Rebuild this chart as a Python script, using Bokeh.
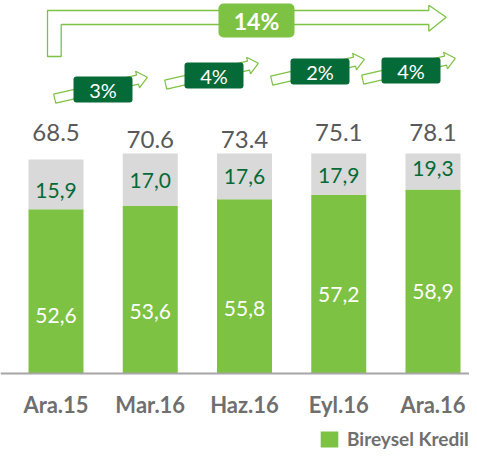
import math
from bokeh.plotting import figure
from bokeh.models import Range1d, Span, Legend, LegendItem, ColumnDataSource
from bokeh.core.properties import value
from bokeh.embed import file_html
from bokeh.resources import INLINE

# ---------------- data ----------------
categories = ["Ara.15", "Mar.16", "Haz.16", "Eyl.16", "Ara.16"]
bireysel = [52.6, 53.6, 55.8, 57.2, 58.9]
diger = [15.9, 17.0, 17.6, 17.9, 19.3]
totals = [68.5, 70.6, 73.4, 75.1, 78.1]
quarter_growth = ["3%", "4%", "2%", "4%"]
annual_growth = "14%"
legend_label = "Bireysel Kredil"
value_axis_max = 70.4  # the original value axis stops here; taller bars are cut

# ---------------- layout (pixels) ----------------
W, H = 469, 450
X0_PX, PX_PER_X = 55.5, 94.25     # centre of first category, category step
Y0_PX, PX_PER_Y = 373.0, 3.125    # baseline, px per unit
BAR_W = 55 / PX_PER_X

total_lift_px = [26.5, 14, 14.5, 21, 21]
grey_label_shift_px = [6.5, 1, 0, 1, -3]
green_label_lift_px = [58.5, 62, 65.5, 79, 82.5]
growth_box_cx_px = [102.5, 213.5, 319.5, 410.5]
growth_box_cy_px = [89, 75, 71, 70]

GREEN = "#7DC243"
GREY = "#D9D9D9"
DARK = "#046A38"
FONT = value("Lato")


def x_of(px):
    return (px - X0_PX) / PX_PER_X


def y_of(py):
    return (Y0_PX - py) / PX_PER_Y


p = figure(width=W, height=H, output_backend="svg", toolbar_location=None,
           x_range=Range1d(x_of(0), x_of(W)), y_range=Range1d(y_of(H), y_of(0)),
           min_border=0, outline_line_color=None)
p.axis.visible = False
p.grid.visible = False
p.background_fill_color = "white"
p.border_fill_color = "white"

xs = list(range(len(categories)))
shown_top = [min(b + d, value_axis_max) for b, d in zip(bireysel, diger)]

src = ColumnDataSource(dict(
    x=xs, cat=categories, b=bireysel, d=diger, top=shown_top,
    tot=[f"{t:.1f}" for t in totals],
    blab=[f"{v:.1f}".replace(".", ",") for v in bireysel],
    dlab=[f"{v:.1f}".replace(".", ",") for v in diger],
))

green_r = p.vbar(x="x", width=BAR_W, bottom=0, top="b", source=src,
                 fill_color=GREEN, line_color=None)
p.vbar(x="x", width=BAR_W, bottom="b", top="top", source=src,
       fill_color=GREY, line_color=None)

p.add_layout(Span(location=0, dimension="width", line_color="#A6A6A6", line_width=2))

# labels
src.data["ytot"] = [t + l / PX_PER_Y for t, l in zip(shown_top, total_lift_px)]
src.data["ygrey"] = [(b + t) / 2 - s / PX_PER_Y for b, t, s in zip(bireysel, shown_top, grey_label_shift_px)]
src.data["ygreen"] = [l / PX_PER_Y for l in green_label_lift_px]
src.data["ycat"] = [-31 / PX_PER_Y] * len(xs)

p.text(x="x", y="ytot", text="tot", source=src, text_font=FONT, text_font_size="24px",
       text_color="#595959", text_align="center", text_baseline="middle")
p.text(x="x", y="ygrey", text="dlab", source=src, text_font=FONT, text_font_size="21px",
       text_color=DARK, text_align="center", text_baseline="middle")
p.text(x="x", y="ygreen", text="blab", source=src, text_font=FONT, text_font_size="21px",
       text_color="white", text_align="center", text_baseline="middle")
p.text(x="x", y="ycat", text="cat", source=src, text_font=FONT, text_font_size="22px",
       text_font_style="bold", text_color="#6F6F6F", text_align="center", text_baseline="middle")

# big L-shaped arrow (annual growth)
L_pts = [(47, 56), (47, 10), (428.3, 10), (428.3, 4.7), (445.7, 16.7), (428.3, 30.7),
         (428.3, 24), (60.7, 24), (60.7, 56)]
p.patch([x_of(a) for a, b in L_pts], [y_of(b) for a, b in L_pts],
        fill_color="white", line_color=GREEN, line_width=1.3)
p.quad(left=[x_of(218)], right=[x_of(294)], top=[y_of(3)], bottom=[y_of(37)],
       fill_color=GREEN, line_color=None, border_radius=5)
p.text(x=[x_of(256)], y=[y_of(20.5)], text=[annual_growth], text_font=FONT,
       text_font_size="23px", text_font_style="bold", text_color="white",
       text_align="center", text_baseline="middle")

# small slanted arrows (quarterly growth)
ang = math.radians(13)
L, hw, HW, hl = 95, 4.6, 8.6, 10
local = [(-L / 2, -hw), (L / 2 - hl, -hw), (L / 2 - hl, -HW), (L / 2, 0),
         (L / 2 - hl, HW), (L / 2 - hl, hw), (-L / 2, hw)]
arrow_xs, arrow_ys = [], []
for cx, cy in zip(growth_box_cx_px, growth_box_cy_px):
    mx, my = cx - 2, cy - 1.5
    pts = [(mx + u * math.cos(ang) - v * math.sin(ang),
            my - (u * math.sin(ang) + v * math.cos(ang))) for u, v in local]
    arrow_xs.append([x_of(a) for a, b in pts])
    arrow_ys.append([y_of(b) for a, b in pts])
p.patches(arrow_xs, arrow_ys, fill_color="white", line_color=GREEN, line_width=1.2)

p.quad(left=[x_of(c - 29.5) for c in growth_box_cx_px],
       right=[x_of(c + 29.5) for c in growth_box_cx_px],
       top=[y_of(c - 13) for c in growth_box_cy_px],
       bottom=[y_of(c + 13) for c in growth_box_cy_px],
       fill_color=DARK, line_color=None, border_radius=3)
p.text(x=[x_of(c) for c in growth_box_cx_px], y=[y_of(c) for c in growth_box_cy_px],
       text=quarter_growth, text_font=FONT, text_font_size="20px", text_color="white",
       text_align="center", text_baseline="middle")

legend = Legend(items=[LegendItem(label=legend_label, renderers=[green_r])],
                location=(318, 0), orientation="horizontal",
                padding=0, margin=0, spacing=0, glyph_width=22, glyph_height=20,
                label_height=20, label_standoff=7, border_line_alpha=0,
                background_fill_alpha=0, label_text_font="Lato",
                label_text_font_size="19px", label_text_font_style="bold",
                label_text_color="#6F6F6F")
p.add_layout(legend)

open("out.html", "w").write(file_html(p, INLINE))
